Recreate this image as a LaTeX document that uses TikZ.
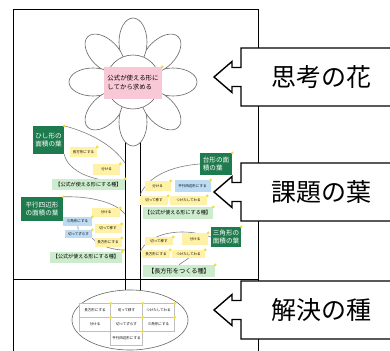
\documentclass[tikz,border=0pt]{standalone}
\usepackage{fontspec}
\setmainfont{Noto Sans CJK JP}
\usetikzlibrary{calc}
\definecolor{leafgreen}{HTML}{1E7B4E}
\definecolor{noteyellow}{HTML}{FFF1A6}
\definecolor{noteblue}{HTML}{BDDCF4}
\definecolor{stripgreen}{HTML}{CDEBCD}
\definecolor{pinkbox}{HTML}{F9C8D6}
\definecolor{pincol}{HTML}{F2DE3A}
\newcommand{\mypin}[1]{\fill[pincol] (#1.north east) circle (1.5pt);}
\begin{document}
\begin{tikzpicture}[x=1pt,y=-1pt,
  frame/.style={line width=1pt, black},
  callout/.style={line width=1.4pt, black, fill=white, line join=miter},
  ctext/.style={font=\fontsize{25}{28}\selectfont},
  petal/.style={draw=black!60, line width=0.6pt, fill=white},
  leafline/.style={draw=black!50, line width=0.6pt},
  stem/.style={line width=0.9pt, black},
  lbl/.style={fill=leafgreen, text=white, align=left, inner sep=1pt, font=\fontsize{6.6}{8}\selectfont},
  note/.style={fill=noteyellow, inner sep=0pt, font=\fontsize{3.5}{4}\selectfont},
  bnote/.style={fill=noteblue, inner sep=0pt, font=\fontsize{3.5}{4}\selectfont},
  strip/.style={fill=stripgreen, inner sep=0pt, font=\fontsize{5.1}{6}\selectfont},
  cell/.style={draw=black!25, line width=0.3pt, fill=white, inner sep=0pt, minimum height=14pt, font=\fontsize{3.5}{4}\selectfont}
]
\useasboundingbox (0,0) rectangle (390,350);
\fill[white] (0,0) rectangle (390,350);

% frame
\draw[frame] (13,352) -- (13,10) -- (258,10) -- (258,352);
\draw[frame] (13,279) -- (258,279);

% stem
\draw[stem] (125,120) -- (125,292);
\draw[stem] (140,120) -- (140,292);

% flower
\foreach \a in {0,45,...,315}
  \draw[petal, shift={(133,82)}, rotate=\a] (40,0) ellipse (24 and 14);
\draw[petal] (133,82) circle (27);
\node[fill=pinkbox, minimum width=58pt, minimum height=32pt, inner sep=1pt, align=left,
      font=\fontsize{6.4}{9}\selectfont] (fc) at (133,83) {公式が使える形に\\してから求める};
\mypin{fc}

% seed
\draw[petal] (130,320) ellipse (58 and 30);
\node[cell, minimum width=31pt] (s11) at (95,310.5) {長方形にする};
\node[cell, minimum width=32pt] (s12) at (126.5,310.5) {切って移す};
\node[cell, minimum width=32pt] (s13) at (158.5,310.5) {つけたしてわる};
\node[cell, minimum width=31pt] (s21) at (95,324.5) {分ける};
\node[cell, minimum width=32pt] (s22) at (126.5,324.5) {切ってずらす};
\node[cell, minimum width=32pt] (s23) at (158.5,324.5) {三角形にする};
\node[cell, minimum width=32pt] (s32) at (126.5,338.5) {平行四辺形にする};
\foreach \n in {s11,s12,s13,s21,s22,s23,s32} {\mypin{\n}}

% left upper leaf
\node[lbl, minimum width=31pt, minimum height=28pt] (l1) at (48.5,140) {ひし形の\\面積の葉};
\draw[leafline] (l1.north east) .. controls (95,134) and (115,148) .. (125,163);
\draw[leafline] (l1.south east) .. controls (68,172) and (95,182) .. (120,181);
\node[note, minimum width=27pt, minimum height=10pt] (n1a) at (83.5,152) {長方形にする};
\node[note, minimum width=27pt, minimum height=11pt] (n1b) at (106.5,169.5) {分ける};
\node[strip, minimum width=73pt, minimum height=11pt] (g1) at (88.5,184.5) {【公式が使える形にする種】};
\foreach \n in {l1,n1a,n1b,g1} {\mypin{\n}}

% left lower leaf
\node[lbl, minimum width=42pt, minimum height=24pt] (l2) at (42,209) {平行四辺形\\の面積の葉};
\draw[leafline] (l2.north east) .. controls (90,196) and (115,202) .. (125,214);
\node[bnote, minimum width=29pt, minimum height=9pt] (b2a) at (77.5,221.5) {三角形にする};
\node[bnote, minimum width=27pt, minimum height=8pt] (b2b) at (78.5,234) {切ってずらす};
\draw[leafline] (b2a) -- (b2b);
\draw[leafline] (b2b.south east) .. controls (100,246) and (112,250) .. (125,250);
\node[note, minimum width=28pt, minimum height=9pt] (n2a) at (106,212.5) {分ける};
\node[note, minimum width=27pt, minimum height=9pt] (n2b) at (108,228.5) {切って移す};
\node[note, minimum width=27pt, minimum height=9pt] (n2c) at (108,242.5) {長方形にする};
\node[strip, minimum width=72pt, minimum height=11pt] (g2) at (86,257) {【公式が使える形にする種】};
\foreach \n in {l2,b2a,b2b,n2a,n2b,n2c,g2} {\mypin{\n}}

% right upper leaf
\node[lbl, minimum width=32pt, minimum height=22pt] (l3) at (216,164) {台形の面\\積の葉};
\draw[leafline] (140,195) .. controls (148,176) and (172,166) .. (l3.west);
\node[note, minimum width=26pt, minimum height=10pt] (n3a) at (157.5,186) {分ける};
\node[bnote, minimum width=36pt, minimum height=12pt] (b3a) at (192.5,186) {平行四辺形にする};
\node[note, minimum width=28pt, minimum height=9pt] (n3b) at (154,200.5) {切って移す};
\node[note, minimum width=37pt, minimum height=9pt] (n3c) at (188.5,200.5) {つけたしてわる};
\node[strip, minimum width=70pt, minimum height=12pt] (g3) at (178,213) {【公式が使える形にする種】};
\foreach \n in {l3,n3a,b3a,n3b,n3c,g3} {\mypin{\n}}

% right lower leaf
\node[lbl, minimum width=30pt, minimum height=20pt] (l4) at (226,237) {三角形の\\面積の葉};
\draw[leafline] (140,252) .. controls (148,234) and (180,226) .. (l4.west);
\node[note, minimum width=28pt, minimum height=8pt] (n4a) at (159,241) {切って移す};
\node[note, minimum width=26pt, minimum height=12pt] (n4b) at (195,239) {分ける};
\node[note, minimum width=28pt, minimum height=8pt] (n4c) at (156,254) {長方形にする};
\node[note, minimum width=33pt, minimum height=8pt] (n4d) at (188.5,254) {つけたしてわる};
\node[strip, minimum width=72pt, minimum height=12pt, font=\fontsize{6.2}{7}\selectfont] (g4) at (179,271) {【長方形をつくる種】};
\draw[leafline] (n4d.south) -- (g4.north);
\foreach \n in {l4,n4a,n4b,n4c,n4d,g4} {\mypin{\n}}

% callouts
\foreach \cy/\txt/\nm in {77/思考の花/c1, 192/課題の葉/c2, 310/解決の種/c3} {
  \draw[callout] (396,\cy-29) -- (241,\cy-29) -- (241,\cy-9.5) -- (232,\cy-9.5) -- (232,\cy-15.5)
     -- (214,\cy) -- (232,\cy+15.5) -- (232,\cy+9.5) -- (241,\cy+9.5) -- (241,\cy+29) -- (396,\cy+29);
  \node[ctext] (\nm) at (321,\cy) {\txt};
}
\end{tikzpicture}
\end{document}
